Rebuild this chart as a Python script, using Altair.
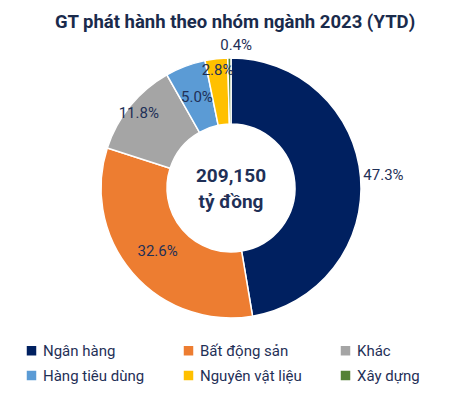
import altair as alt
import pandas as pd

categories = ["Ngân hàng", "Bất động sản", "Khác", "Hàng tiêu dùng", "Nguyên vật liệu", "Xây dựng"]
shares = [47.3, 32.6, 11.8, 5.0, 2.8, 0.4]
labels = ["47.3%", "32.6%", "11.8%", "5.0%", "2.8%", "0.4%"]
colors = ["#002060", "#ED7D31", "#A5A5A5", "#5B9BD5", "#FFC000", "#548235"]
total_text = ["209,150", "tỷ đồng"]
title_text = "GT phát hành theo nhóm ngành 2023 (YTD)"

df = pd.DataFrame({
    "cat": categories,
    "share": shares,
    "label": labels,
    "ord": list(range(len(categories))),
})

W, H = 446, 280
TXT = "#1f3057"

base = alt.Chart(df).encode(
    theta=alt.Theta("share:Q", stack=True),
    order=alt.Order("ord:Q"),
)

arcs = base.mark_arc(outerRadius=130, innerRadius=64, stroke="white", strokeWidth=1.5).encode(
    color=alt.Color(
        "cat:N",
        scale=alt.Scale(domain=categories, range=colors),
        sort=categories,
        legend=alt.Legend(
            title=None, orient="none", legendX=16, legendY=295, columns=3,
            direction="horizontal",
            symbolType="square", symbolSize=90, symbolStrokeWidth=0,
            labelFont="Roboto", labelFontSize=15, labelColor=TXT,
            columnPadding=36, rowPadding=9, labelOffset=4,
        ),
    )
)

def lab(subset, r, dx=0):
    return base.mark_text(radius=r, font="Roboto", fontSize=15, color=TXT, dx=dx).encode(
        text="label:N",
        opacity=alt.condition(alt.FieldOneOfPredicate(field="cat", oneOf=subset), alt.value(1), alt.value(0)),
    )

l1 = lab(["Bất động sản", "Hàng tiêu dùng"], 97)
l2 = lab(["Khác", "Nguyên vật liệu"], 119)
l3 = lab(["Ngân hàng"], 153)
l4 = lab(["Xây dựng"], 143, dx=7)

center1 = alt.Chart(pd.DataFrame({"t": [total_text[0]]})).mark_text(
    font="Roboto", fontSize=19, fontWeight="bold", color=TXT
).encode(text="t:N", x=alt.value(W / 2), y=alt.value(H / 2 - 12))
center2 = alt.Chart(pd.DataFrame({"t": [total_text[1]]})).mark_text(
    font="Roboto", fontSize=19, fontWeight="bold", color=TXT
).encode(text="t:N", x=alt.value(W / 2), y=alt.value(H / 2 + 14))

title = alt.Chart(pd.DataFrame({"t": [title_text]})).mark_text(
    font="Roboto", fontSize=18.5, fontWeight="bold", color="#1a2b4c"
).encode(text="t:N", x=alt.value(W / 2 + 4), y=alt.value(-26))

chart = alt.layer(arcs, l1, l2, l3, l4, center1, center2, title).properties(
    width=W, height=H,
    autosize=alt.AutoSizeParams(type="none"),
    padding={"left": 0, "top": 40, "right": 0, "bottom": 70},
).configure_view(stroke=None)

chart.save("out.html", embed_options={"renderer": "svg", "actions": False})
